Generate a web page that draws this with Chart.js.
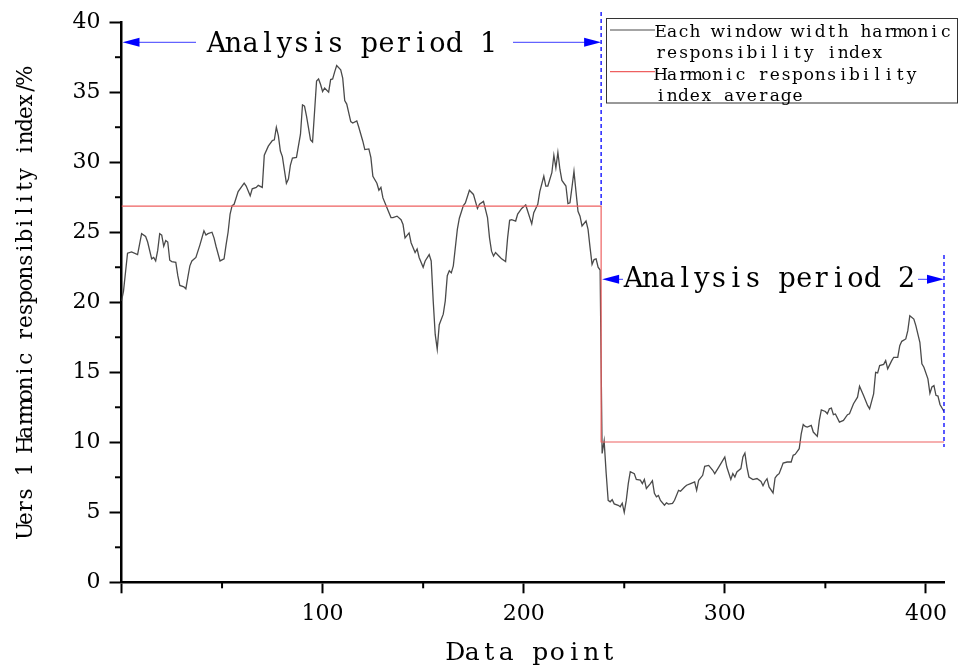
<!DOCTYPE html>
<html><head><meta charset="utf-8">
<script src="https://cdn.jsdelivr.net/npm/chart.js@4/dist/chart.umd.min.js"></script>
<style>html,body{margin:0;padding:0;background:#fff;}canvas{display:block;}</style>
</head><body>
<canvas id="c" width="965" height="666"></canvas>
<script>
// ---- data ----
const pointX = [0,1,3,5,8,10,12,13,15,16,17,18,19,20,21,22,23,24,25,27,28,29,31,32,33,34,35,37,39,41,42,43,45,46,47,49,51,52,53,54,55,56,58,61,62,64,65,67,68,70,
71,73,75,76,77,78,79,80,82,83,84,85,87,89,90,91,92,94,95,96,97,98,99,100,101,103,104,105,106,107,109,110,111,112,114,115,117,118,120,121,123,124,125,127,128,129,130,132,134,135,
137,139,140,141,143,144,146,147,148,150,151,153,154,155,156,157,158,160,161,162,163,164,165,167,168,170,171,173,175,177,178,180,182,183,184,185,186,188,189,191,192,193,194,196,197,199,201,202,204,205,
207,208,210,211,212,214,215,216,217,218,219,221,222,223,224,225,226,227,228,229,231,232,233,234,235,236,237,238,239,240,241,242,243,244,245,247,248,249,250,251,252,253,255,256,258,259,260,261,263,264,
265,266,267,268,270,271,272,274,275,277,278,280,281,283,285,286,287,289,290,292,294,295,297,299,300,301,303,304,305,306,308,309,310,311,312,314,316,318,319,320,321,322,324,325,326,327,328,329,331,333,
334,335,337,338,339,340,341,343,344,346,347,348,350,351,352,353,354,355,357,359,361,362,364,366,367,369,371,372,374,375,376,377,379,380,381,383,384,386,387,388,390,391,392,394,395,397,398,399,401,402,
403,404,405,406,407,408,409];
const indexValues = [20.1,20.8,23.5,23.6,23.4,24.9,24.7,24.3,23.1,23.2,22.95,23.7,24.9,24.8,24.0,24.4,24.3,23.0,22.9,22.85,21.9,21.2,21.1,20.95,21.8,22.6,22.95,23.2,24.1,25.1,24.8,24.9,25.0,24.6,24.0,22.95,23.1,24.1,25.0,26.3,26.9,27.0,27.9,28.5,28.3,27.6,28.1,28.2,28.35,28.2,
30.5,31.15,31.55,31.6,32.5,31.9,30.8,30.4,28.5,28.8,29.8,30.3,30.35,32.0,34.1,34.0,33.3,31.6,31.45,33.6,35.8,35.95,35.55,35.05,35.3,35.0,35.9,35.95,36.45,36.9,36.6,36.0,34.4,34.15,32.9,32.8,32.95,32.5,31.5,30.9,30.95,30.35,29.0,28.5,28.0,28.2,27.45,26.75,26.05,26.05,
26.15,25.9,25.55,24.6,24.95,24.25,23.55,23.8,23.2,22.5,22.95,23.4,22.95,20.1,17.7,16.65,18.4,19.15,20.1,21.9,22.25,22.1,22.6,25.2,26.0,26.9,27.1,28.0,27.7,26.7,27.0,27.2,26.05,24.6,23.65,23.3,23.55,23.25,23.1,22.9,24.6,25.85,25.9,25.8,26.3,26.7,26.95,26.5,25.6,26.4,
27.0,27.9,29.0,28.3,28.3,29.25,30.5,29.6,30.7,29.5,28.7,28.3,27.05,27.1,28.2,29.35,27.9,26.5,26.15,25.45,25.8,25.2,23.9,22.7,23.05,23.1,22.5,22.3,9.2,10.1,7.8,5.85,5.75,5.9,5.6,5.5,5.4,5.65,5.0,5.85,7.05,7.9,7.75,7.35,7.3,7.05,7.35,6.7,7.05,7.25,
6.35,6.1,6.2,5.85,5.5,5.67,5.58,5.63,5.86,6.57,6.5,6.8,6.93,7.05,7.17,6.57,7.29,7.64,8.28,8.35,8.0,7.76,8.23,8.71,8.95,8.23,7.34,7.76,7.52,7.88,8.12,8.95,9.23,8.23,7.52,7.34,7.41,7.2,6.9,7.2,7.4,6.81,6.38,7.45,7.64,7.76,8.12,8.52,8.59,8.59,
9.07,9.14,9.54,10.6,11.27,11.13,11.08,11.2,10.73,10.42,11.56,12.32,12.2,12.04,12.39,12.44,11.97,12.02,11.44,11.56,11.97,12.04,12.75,13.22,14.0,13.34,12.63,12.39,13.46,15.0,14.95,15.48,15.56,15.83,15.24,15.83,16.07,16.07,16.9,17.21,17.38,17.97,19.04,18.8,18.33,17.14,15.6,15.36,14.53,13.5,
13.95,14.05,13.35,13.3,12.7,12.45,12.2];
const avgX = [0, 238.5, 238.5, 409];
const avgValues = [26.87, 26.87, 10.02, 10.02];
const periodBounds = [0, 238.5, 409];
const periodLabels = ['Analysis period 1', 'Analysis period 2'];
const seriesNames = ['Each window width harmonic responsibility index', 'Harmonic responsibility index average'];
const legendLines = [['Each window width harmonic', 'responsibility index'], ['Harmonic responsibility', 'index average']];
const xTitle = 'Data point';
const yTitle = 'Uers 1 Harmonic responsibility index/%';
const xTickValues = [0, 100, 200, 300, 400];
const yTickValues = [0, 5, 10, 15, 20, 25, 30, 35, 40];
const xMinorTicks = [50, 150, 250, 350];
const yMinorTicks = [2.5, 7.5, 12.5, 17.5, 22.5, 27.5, 32.5, 37.5];

const SERIF = '"DejaVu Serif", "Liberation Serif", serif';
const GRAY = '#4a4a4a';
const RED = 'rgb(238,96,96)';
const BLUE = '#0000ff';

function monoText(ctx, text, x, y, adv, font, color) {
  ctx.save();
  ctx.font = font; ctx.fillStyle = color || '#000';
  ctx.textAlign = 'center'; ctx.textBaseline = 'alphabetic';
  for (let i = 0; i < text.length; i++) ctx.fillText(text[i], x + adv * (i + 0.5), y);
  ctx.restore();
}
function arrow(ctx, from, tip, y) {
  const dir = tip > from ? 1 : -1;
  ctx.save();
  ctx.strokeStyle = '#3c3cff'; ctx.lineWidth = 1;
  ctx.beginPath(); ctx.moveTo(from, y); ctx.lineTo(tip - dir * 8, y); ctx.stroke();
  ctx.fillStyle = BLUE;
  ctx.beginPath(); ctx.moveTo(tip, y); ctx.lineTo(tip - dir * 17, y - 4.5); ctx.lineTo(tip - dir * 17, y + 4.5); ctx.closePath(); ctx.fill();
  ctx.restore();
}

const decor = {
  id: 'decor',
  afterDraw(chart) {
    const ctx = chart.ctx, xs = chart.scales.x, ys = chart.scales.y, ca = chart.chartArea;
    // minor ticks
    ctx.save(); ctx.strokeStyle = '#000'; ctx.lineWidth = 2;
    yMinorTicks.forEach(v => { const p = ys.getPixelForValue(v); ctx.beginPath(); ctx.moveTo(ca.left - 6.5, p); ctx.lineTo(ca.left, p); ctx.stroke(); });
    xMinorTicks.forEach(v => { const p = xs.getPixelForValue(v); ctx.beginPath(); ctx.moveTo(p, ca.bottom); ctx.lineTo(p, ca.bottom + 6); ctx.stroke(); });
    ctx.restore();
    // period separators
    const pb1 = xs.getPixelForValue(periodBounds[1]), pb2 = xs.getPixelForValue(periodBounds[2]);
    ctx.save(); ctx.strokeStyle = BLUE; ctx.lineWidth = 1.3; ctx.setLineDash([4, 3]);
    ctx.beginPath(); ctx.moveTo(pb1, 12); ctx.lineTo(pb1, ys.getPixelForValue(avgValues[0])); ctx.stroke();
    ctx.beginPath(); ctx.moveTo(pb2, 255); ctx.lineTo(pb2, ys.getPixelForValue(avgValues[3]) + 5); ctx.stroke();
    ctx.restore();
    // period arrows + labels
    const p0 = xs.getPixelForValue(periodBounds[0]) + 1;
    arrow(ctx, 196, p0, 42.3); arrow(ctx, 513, pb1, 42.3);
    monoText(ctx, periodLabels[0], 208, 52.3, 17, '27px ' + SERIF);
    arrow(ctx, 623, pb1 + 1, 279.3); arrow(ctx, 918, pb2, 279.3);
    monoText(ctx, periodLabels[1], 625, 287.3, 17.06, '27px ' + SERIF);
    // legend
    ctx.save(); ctx.strokeStyle = '#333'; ctx.lineWidth = 1;
    ctx.strokeRect(606.5, 18.5, 351, 84.5);
    ctx.lineWidth = 1.2;
    ctx.strokeStyle = GRAY; ctx.beginPath(); ctx.moveTo(610, 30); ctx.lineTo(655, 30); ctx.stroke();
    ctx.strokeStyle = RED; ctx.beginPath(); ctx.moveTo(610, 71.7); ctx.lineTo(655, 71.7); ctx.stroke();
    ctx.restore();
    const lf = '17px ' + SERIF;
    monoText(ctx, legendLines[0][0], 655, 37.3, 11.4, lf);
    monoText(ctx, legendLines[0][1], 655, 58.3, 11.4, lf);
    monoText(ctx, legendLines[1][0], 655, 80, 11.4, lf);
    monoText(ctx, legendLines[1][1], 655, 100.7, 11.4, lf);
    // axis titles
    monoText(ctx, xTitle, 446.7, 660, 17, '25px ' + SERIF);
    ctx.save(); ctx.translate(31.7, 537); ctx.rotate(-Math.PI / 2);
    monoText(ctx, yTitle, 0, 0, 12.3, '21.5px ' + SERIF);
    ctx.restore();
  }
};

new Chart(document.getElementById('c'), {
  type: 'line',
  data: {
    datasets: [
      { label: seriesNames[1], data: avgX.map((x, i) => ({ x, y: avgValues[i] })), borderColor: RED, borderWidth: 1.2, pointRadius: 0, tension: 0, fill: false },
      { label: seriesNames[0], data: pointX.map((x, i) => ({ x, y: indexValues[i] })), borderColor: GRAY, borderWidth: 1.3, pointRadius: 0, tension: 0, fill: false }
    ]
  },
  options: {
    responsive: false, animation: false, events: [],
    layout: { padding: { left: 0, top: 20.7, right: 21, bottom: 0 } },
    plugins: { legend: { display: false }, tooltip: { enabled: false } },
    scales: {
      x: {
        type: 'linear', min: 0, max: 409,
        afterFit(s) { s.height = 83.7; },
        afterBuildTicks(s) { s.ticks = xTickValues.map(v => ({ value: v })); },
        border: { display: true, color: '#000', width: 2.5 },
        grid: { drawOnChartArea: false, drawTicks: true, tickLength: 11, tickColor: '#000', tickWidth: 2 },
        ticks: { autoSkip: false, color: '#000', padding: 8, font: { family: SERIF, size: 22 }, maxRotation: 0,
          callback: v => v === 0 ? '' : String(v) }
      },
      y: {
        min: 0, max: 40,
        afterFit(s) { s.width = 121.5; },
        afterBuildTicks(s) { s.ticks = yTickValues.map(v => ({ value: v })); },
        border: { display: true, color: '#000', width: 2.5 },
        grid: { drawOnChartArea: false, drawTicks: true, tickLength: 12, tickColor: '#000', tickWidth: 2 },
        ticks: { autoSkip: false, color: '#000', padding: 9, font: { family: SERIF, size: 22 } }
      }
    }
  },
  plugins: [decor]
});
</script>
</body></html>
